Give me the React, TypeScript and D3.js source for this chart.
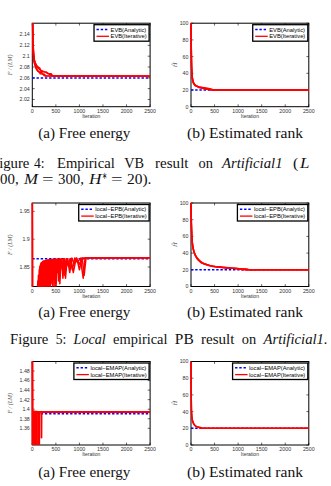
import * as d3 from "d3";

type Pt = [number, number];

// shared axes
const iterTicks = [0, 500, 1000, 1500, 2000, 2500];
const rankTicks = [0, 20, 40, 60, 80, 100];
const evbEnergyTicks = [2.02, 2.04, 2.06, 2.08, 2.1, 2.12, 2.14];
const epbEnergyTicks = [1.85, 1.9, 1.95];
const emapEnergyTicks = [1.36, 1.38, 1.4, 1.42, 1.44, 1.46, 1.48];

// analytic solutions
const evbEnergyAnalytic = 2.0597;
const epbEnergyAnalytic = 1.8648;
const emapEnergyAnalytic = 1.3905;
const rankAnalytic = 20;

// iterative runs, [iteration, value]
const evbEnergyRuns: Pt[][] = [
  [[0, 2.25], [8, 2.16], [15, 2.13], [25, 2.11], [40, 2.095], [60, 2.088], [80, 2.084], [110, 2.08], [150, 2.076], [200, 2.073], [260, 2.071], [300, 2.0705], [340, 2.068], [380, 2.066], [420, 2.0635], [460, 2.0628], [2500, 2.0628]],
  [[0, 2.25], [6, 2.15], [14, 2.12], [22, 2.1], [35, 2.09], [50, 2.085], [70, 2.082], [90, 2.078], [120, 2.072], [150, 2.0705], [200, 2.0705], [215, 2.067], [260, 2.0665], [280, 2.0635], [2500, 2.0628]],
  [[0, 2.25], [10, 2.14], [20, 2.115], [30, 2.1], [45, 2.092], [65, 2.087], [90, 2.083], [120, 2.08], [160, 2.078], [180, 2.072], [250, 2.071], [290, 2.0705], [320, 2.068], [400, 2.0675], [430, 2.064], [2500, 2.0628]],
  [[0, 2.25], [12, 2.135], [25, 2.105], [45, 2.088], [70, 2.079], [100, 2.074], [140, 2.0715], [170, 2.0675], [230, 2.067], [250, 2.064], [2500, 2.0628]],
];

const evbRankRuns: Pt[][] = [
  [[0, 100], [3, 85], [6, 70], [9, 58], [12, 48], [16, 41], [25, 35], [35, 31], [50, 29], [80, 26], [120, 25], [160, 24], [250, 23], [350, 22], [440, 21], [460, 20], [2500, 20]],
  [[0, 100], [4, 80], [8, 62], [12, 50], [18, 42], [28, 35], [45, 30], [70, 27], [110, 25], [170, 23], [240, 22], [320, 21], [380, 21], [400, 20], [2500, 20]],
  [[0, 100], [2, 88], [5, 72], [8, 60], [12, 50], [20, 40], [30, 34], [50, 28], [90, 25], [140, 24], [200, 23], [280, 22], [360, 21], [420, 21], [430, 20], [2500, 20]],
];

const epbEnergyRuns: Pt[][] = [
  [[0, 2.0], [5, 1.75], [30, 1.78], [60, 1.8], [90, 1.79], [110, 1.81], [125, 1.78], [140, 1.83], [150, 1.79], [165, 1.85], [172, 1.8], [185, 1.857], [193, 1.79], [205, 1.858], [214, 1.81], [228, 1.86], [236, 1.8], [250, 1.861], [260, 1.82], [272, 1.861], [282, 1.79], [295, 1.862], [306, 1.83], [318, 1.862], [330, 1.8], [342, 1.862], [354, 1.825], [368, 1.863], [380, 1.81], [394, 1.863], [408, 1.84], [422, 1.863], [436, 1.815], [452, 1.863], [468, 1.835], [486, 1.864], [504, 1.82], [522, 1.864], [540, 1.845], [560, 1.864], [582, 1.83], [605, 1.864], [630, 1.85], [660, 1.865], [690, 1.835], [720, 1.865], [760, 1.852], [800, 1.865], [850, 1.845], [900, 1.866], [960, 1.858], [1020, 1.866], [1080, 1.83], [1120, 1.866], [2500, 1.8665]],
  [[0, 2.0], [6, 1.76], [40, 1.79], [80, 1.81], [100, 1.79], [118, 1.825], [132, 1.79], [148, 1.845], [158, 1.8], [170, 1.853], [180, 1.785], [196, 1.857], [206, 1.805], [220, 1.859], [230, 1.79], [244, 1.86], [255, 1.815], [268, 1.861], [278, 1.8], [292, 1.861], [302, 1.825], [316, 1.862], [326, 1.79], [340, 1.862], [352, 1.82], [366, 1.863], [378, 1.8], [392, 1.863], [405, 1.83], [420, 1.863], [434, 1.805], [450, 1.864], [466, 1.83], [484, 1.864], [500, 1.81], [520, 1.864], [540, 1.84], [562, 1.864], [585, 1.82], [610, 1.865], [640, 1.845], [670, 1.865], [705, 1.83], [740, 1.865], [780, 1.85], [820, 1.865], [870, 1.84], [930, 1.866], [1000, 1.855], [1060, 1.866], [1100, 1.835], [1140, 1.866], [2500, 1.8665]],
  [[0, 2.0], [4, 1.74], [50, 1.77], [95, 1.8], [112, 1.78], [130, 1.835], [142, 1.785], [158, 1.85], [167, 1.79], [178, 1.855], [189, 1.8], [200, 1.858], [209, 1.785], [222, 1.86], [233, 1.82], [246, 1.861], [257, 1.795], [270, 1.861], [280, 1.83], [294, 1.862], [304, 1.8], [320, 1.862], [334, 1.835], [348, 1.863], [360, 1.8], [374, 1.863], [386, 1.845], [400, 1.863], [416, 1.82], [430, 1.864], [446, 1.845], [462, 1.864], [480, 1.815], [498, 1.864], [516, 1.85], [536, 1.864], [556, 1.825], [578, 1.865], [600, 1.85], [625, 1.865], [650, 1.83], [680, 1.865], [715, 1.855], [750, 1.865], [795, 1.84], [840, 1.866], [890, 1.856], [945, 1.866], [1000, 1.845], [1050, 1.866], [2500, 1.8665]],
];

const epbRankRuns: Pt[][] = [
  [[0, 100], [4, 85], [8, 74], [14, 64], [20, 58], [28, 52], [40, 47], [60, 42], [90, 38], [130, 34], [180, 31], [240, 28], [300, 27], [400, 25], [520, 24], [700, 23], [900, 22], [1100, 21], [1200, 21], [1220, 20], [2500, 20]],
  [[0, 100], [3, 88], [7, 76], [12, 66], [18, 59], [26, 53], [38, 48], [55, 43], [80, 39], [115, 35], [160, 32], [220, 29], [290, 27], [380, 25], [500, 24], [650, 23], [850, 22], [1000, 21], [1150, 21], [1160, 20], [2500, 20]],
  [[0, 100], [5, 84], [10, 73], [16, 63], [24, 56], [34, 50], [48, 45], [70, 40], [100, 36], [145, 32], [200, 29], [270, 27], [350, 26], [460, 24], [600, 23], [780, 22], [950, 22], [1050, 21], [1080, 20], [2500, 20]],
];

const emapEnergyRuns: Pt[][] = [
  [[0, 1.6], [4, 1.3], [18, 1.3], [20, 1.394], [30, 1.394], [32, 1.3], [45, 1.3], [47, 1.394], [2500, 1.394]],
  [[0, 1.6], [5, 1.3], [60, 1.3], [62, 1.394], [80, 1.394], [82, 1.3], [100, 1.3], [102, 1.394], [2500, 1.394]],
  [[0, 1.6], [6, 1.3], [120, 1.3], [122, 1.394], [135, 1.394], [137, 1.3], [150, 1.3], [152, 1.394], [2500, 1.394]],
  [[0, 1.6], [7, 1.3], [25, 1.3], [27, 1.396], [190, 1.394], [192, 1.34], [198, 1.34], [200, 1.394], [2500, 1.394]],
];

const emapRankRuns: Pt[][] = [
  [[0, 100], [2, 82], [4, 64], [7, 50], [10, 42], [15, 36], [25, 31], [40, 28], [60, 25], [90, 23], [120, 22], [200, 21], [250, 20], [2500, 20]],
  [[0, 100], [2, 78], [5, 58], [8, 46], [12, 39], [18, 34], [30, 29], [50, 26], [75, 24], [110, 22], [170, 21], [220, 20], [2500, 20]],
];

const sans = "'Liberation Sans', Arial, sans-serif";
const serif = "'Liberation Serif', 'Times New Roman', serif";

let measureCtx: CanvasRenderingContext2D | null = null;
function textWidth(s: string, size: number) {
  if (!measureCtx && typeof document !== "undefined") {
    measureCtx = document.createElement("canvas").getContext("2d");
  }
  if (!measureCtx) return s.length * size * 0.55;
  measureCtx.font = `${size}px ${sans}`;
  return measureCtx.measureText(s).width;
}

type PanelProps = {
  id: string;
  left: number;
  top: number;
  width: number;
  height: number;
  yDomain: [number, number];
  yTicks: number[];
  kind: "energy" | "rank";
  method: string;
  analytic: number;
  runs: Pt[][];
};

function Panel(p: PanelProps) {
  const bottom = p.top + p.height;
  const right = p.left + p.width;
  const x = d3.scaleLinear().domain([0, 2500]).range([p.left, right]);
  const y = d3.scaleLinear().domain(p.yDomain).range([bottom, p.top]);
  const line = d3
    .line<Pt>()
    .x((d) => x(d[0]))
    .y((d) => y(d[1]));
  const tick = 2.4;
  const fs = 5.3;

  const analyticLabel = `${p.method}(Analytic)`;
  const iterLabel = `${p.method}(Iterative)`;
  const legendFs = 5.8;
  const legendW = Math.max(textWidth(analyticLabel, legendFs), textWidth(iterLabel, legendFs)) + 19;
  const lx = right - 1 - legendW;
  const ly = p.top + 1.5;
  const row1 = ly + 4.8;
  const row2 = ly + 11.6;

  return (
    <g>
      <defs>
        <clipPath id={p.id}>
          <rect x={p.left - 1} y={p.top} width={p.width + 1} height={p.height} />
        </clipPath>
      </defs>
      <rect x={p.left} y={p.top} width={p.width} height={p.height} fill="#fff" stroke="#000" strokeWidth={1} />

      {iterTicks.map((t) => (
        <g key={`x${t}`}>
          <line x1={x(t)} x2={x(t)} y1={bottom} y2={bottom - tick} stroke="#000" strokeWidth={0.6} />
          <line x1={x(t)} x2={x(t)} y1={p.top} y2={p.top + tick} stroke="#000" strokeWidth={0.6} />
          <text x={x(t)} y={bottom + 6.2} fontSize={fs} fontFamily={sans} fill="#333" textAnchor="middle">
            {t}
          </text>
        </g>
      ))}
      {p.yTicks.map((t) => (
        <g key={`y${t}`}>
          <line x1={p.left} x2={p.left + tick} y1={y(t)} y2={y(t)} stroke="#000" strokeWidth={0.6} />
          <line x1={right} x2={right - tick} y1={y(t)} y2={y(t)} stroke="#000" strokeWidth={0.6} />
          <text x={p.left - 2.5} y={y(t) + 1.9} fontSize={fs} fontFamily={sans} fill="#333" textAnchor="end">
            {String(t)}
          </text>
        </g>
      ))}
      <text x={(p.left + right) / 2} y={bottom + 11} fontSize={5} fontFamily={sans} fill="#333" textAnchor="middle">
        Iteration
      </text>
      {p.kind === "energy" ? (
        <text
          transform={`translate(${p.left - 20},${(p.top + bottom) / 2}) rotate(-90)`}
          fontSize={6}
          fontFamily={serif}
          fontStyle="italic"
          fill="#555"
          textAnchor="middle"
        >
          F / (LM)
        </text>
      ) : (
        <text
          transform={`translate(${p.left - 14},${(p.top + bottom) / 2}) rotate(-90)`}
          fontSize={6.5}
          fontFamily={serif}
          fontStyle="italic"
          fill="#555"
          textAnchor="middle"
        >
          Ĥ
        </text>
      )}

      <g clipPath={`url(#${p.id})`}>
        <line
          x1={x(0)}
          x2={x(2500)}
          y1={y(p.analytic)}
          y2={y(p.analytic)}
          stroke="#0000ff"
          strokeWidth={1.4}
          strokeDasharray="2.4 1.8"
        />
        {p.runs.map((r, i) => (
          <path key={i} d={line(r) ?? ""} fill="none" stroke="#ff0000" strokeWidth={1.5} strokeLinejoin="round" />
        ))}
      </g>

      <rect x={lx} y={ly} width={legendW} height={16.5} fill="#fff" stroke="#000" strokeWidth={1.3} />
      <line x1={lx + 2.5} x2={lx + 15} y1={row1} y2={row1} stroke="#0000ff" strokeWidth={1.4} strokeDasharray="2.4 1.8" />
      <line x1={lx + 2.5} x2={lx + 15} y1={row2} y2={row2} stroke="#ff0000" strokeWidth={1.3} />
      <text x={lx + 16.5} y={row1 + 2} fontSize={legendFs} fontFamily={sans} fill="#000">
        {analyticLabel}
      </text>
      <text x={lx + 16.5} y={row2 + 2} fontSize={legendFs} fontFamily={sans} fill="#000">
        {iterLabel}
      </text>
    </g>
  );
}

type Word = { t: string; x: number; w: number; it?: boolean; dy?: number; size?: number };

function Words({ y, words }: { y: number; words: Word[] }) {
  return (
    <g>
      {words.map((w, i) => (
        <text
          key={i}
          x={w.x}
          y={y + (w.dy ?? 0)}
          textLength={w.w}
          lengthAdjust="spacingAndGlyphs"
          fontSize={w.size ?? 14}
          fontFamily={serif}
          fontStyle={w.it ? "italic" : "normal"}
          fill="#111"
        >
          {w.t}
        </text>
      ))}
    </g>
  );
}

function SubCaptions({ y }: { y: number }) {
  return (
    <Words
      y={y}
      words={[
        { t: "(a) Free energy", x: 38.3, w: 92 },
        { t: "(b) Estimated rank", x: 187, w: 116 },
      ]}
    />
  );
}

export default function App() {
  const aLeft = 32.3;
  const bLeft = 191;
  const w = 117.8;
  const h = 83.5;
  return (
    <svg
      width={331}
      height={486}
      viewBox="0 0 331 486"
      style={{ position: "absolute", left: 0, top: 0, background: "#fff" }}
    >
      <rect width={331} height={486} fill="#fff" />

      <Panel id="c1" left={aLeft} top={23.2} width={w} height={h} yDomain={[2.0066, 2.161]} yTicks={evbEnergyTicks}
        kind="energy" method="EVB" analytic={evbEnergyAnalytic} runs={evbEnergyRuns} />
      <Panel id="c2" left={bLeft} top={23.2} width={w} height={h} yDomain={[0, 100]} yTicks={rankTicks}
        kind="rank" method="EVB" analytic={rankAnalytic} runs={evbRankRuns} />
      <SubCaptions y={138} />
      {/* caption runs past the left edge of the page column */}
      <Words
        y={168}
        words={[
          { t: "Figure", x: -9, w: 38.4 },
          { t: "4:", x: 34, w: 10.6 },
          { t: "Empirical", x: 57, w: 57.7 },
          { t: "VB", x: 124.3, w: 19.8 },
          { t: "result", x: 155.1, w: 33.4 },
          { t: "on", x: 198.5, w: 14.4 },
          { t: "Artificial1", x: 222, w: 60.5, it: true },
          { t: "(", x: 293, w: 5.3 },
          { t: "L", x: 300, w: 9.5, it: true },
        ]}
      />
      <Words
        y={184}
        words={[
          { t: "500,", x: -7.4, w: 26 },
          { t: "M", x: 24, w: 14, it: true },
          { t: "=", x: 42, w: 11.5 },
          { t: "300,", x: 58, w: 26 },
          { t: "H", x: 89, w: 12.5, it: true },
          { t: "∗", x: 102, w: 5, dy: -5, size: 10 },
          { t: "=", x: 111, w: 11.5 },
          { t: "20).", x: 127, w: 24.5 },
        ]}
      />

      <Panel id="c3" left={aLeft} top={203} width={w} height={h} yDomain={[1.815, 1.965]} yTicks={epbEnergyTicks}
        kind="energy" method="local−EPB" analytic={epbEnergyAnalytic} runs={epbEnergyRuns} />
      <Panel id="c4" left={bLeft} top={203} width={w} height={h} yDomain={[0, 100]} yTicks={rankTicks}
        kind="rank" method="local−EPB" analytic={rankAnalytic} runs={epbRankRuns} />
      <SubCaptions y={317} />
      <Words
        y={344}
        words={[
          { t: "Figure", x: 10, w: 38.4 },
          { t: "5:", x: 55.7, w: 10.6 },
          { t: "Local", x: 73.6, w: 32.2, it: true },
          { t: "empirical", x: 113.1, w: 54.4 },
          { t: "PB", x: 174.8, w: 18.9 },
          { t: "result", x: 201, w: 33.4 },
          { t: "on", x: 241.7, w: 14.4 },
          { t: "Artificial1.", x: 263.4, w: 64.3, it: true },
        ]}
      />

      <Panel id="c5" left={aLeft} top={361.5} width={w} height={h} yDomain={[1.325, 1.5]} yTicks={emapEnergyTicks}
        kind="energy" method="local−EMAP" analytic={emapEnergyAnalytic} runs={emapEnergyRuns} />
      <Panel id="c6" left={bLeft} top={361.5} width={w} height={h} yDomain={[0, 100]} yTicks={rankTicks}
        kind="rank" method="local−EMAP" analytic={rankAnalytic} runs={emapRankRuns} />
      <SubCaptions y={477} />
    </svg>
  );
}
